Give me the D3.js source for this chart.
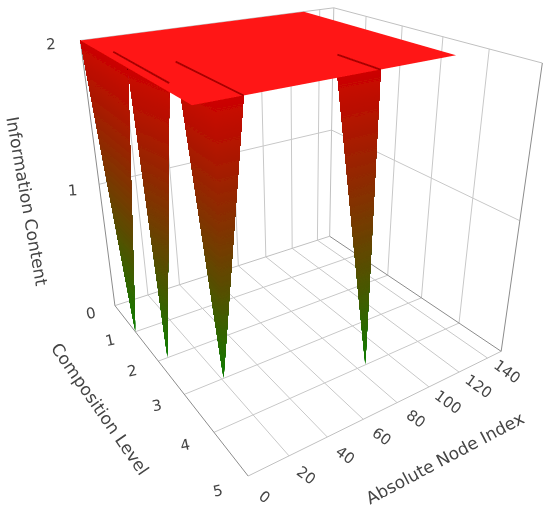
<!DOCTYPE html>
<meta charset="utf-8">
<style>
body { margin: 0; background: #fff; }
text { font-family: "DejaVu Sans", sans-serif; fill: #444; text-anchor: middle; dominant-baseline: central; }
.tick { font-size: 15px; }
.title { font-size: 17px; }
</style>
<svg width="550" height="513"><g id="plot" filter="url(#soft)"></g>
  <defs><filter id="soft" x="0" y="0" width="100%" height="100%"><feGaussianBlur stdDeviation="0.45"></feGaussianBlur></filter></defs>
</svg>

<script src="https://d3js.org/d3.v7.min.js"></script>
<script>

var nodeTicks = [0, 20, 40, 60, 80, 100, 120, 140],
    levelTicks = [0, 1, 2, 3, 4, 5],
    infoTicks = [2, 1];

var nodeMax = 150, levelMax = 5, infoMax = 2;

// the flat part of the surface
var topNodeEnd = 129, topLevelEnd = 4;

// each spike: nodes and levels of the points along its top, then its tip
var spikeTopNodes  = [[0, 0], [0, 5], [9, 9, 21], [64, 86]],
    spikeTopLevels = [[0, 2], [2, 3], [3, 4, 4], [4, 4]],
    spikeTipNode   = [0, 5, 21, 85],
    spikeTipLevel  = [1, 2, 3, 4];

// dark creases on the flat part
var creaseNode  = [5, 21, 86],
    creaseFrom  = [1, 2.05, 3],
    creaseTo    = [3, 4, 4];

// picture positions of known plot points: node, level, info, x, y
var cameraRefs = [
  [0, 0, 0, 113, 306], [0, 1, 0, 136, 331], [0, 2, 0, 159, 361], [0, 3, 0, 186, 395],
  [0, 4, 0, 215, 433], [0, 5, 0, 247, 476], [20, 5, 0, 288, 457], [60, 5, 0, 363, 418],
  [100, 5, 0, 428, 387], [140, 5, 0, 487, 358], [150, 5, 0, 502, 351], [150, 0, 0, 330, 237],
  [120, 0, 0, 292, 248], [0, 0, 2, 80, 41], [150, 0, 2, 333, 8], [150, 5, 2, 543, 63],
  [0, 0, 1, 100, 183], [150, 0, 1, 332, 130]
];

var nodeScale = d3.scaleLinear().domain([0, nodeMax]).range([0, 1]),
    levelScale = d3.scaleLinear().domain([0, levelMax]).range([0, 1]),
    infoScale = d3.scaleLinear().domain([0, infoMax]).range([0, 1]),
    color = d3.scaleLinear().domain([0, infoMax]).range(["#0f7d00", "#cc0400"]).interpolate(d3.interpolateRgb);

function solveCamera(refs) {
  var A = d3.range(11).map(function() { return d3.range(12).map(function() { return 0; }); });
  function add(row, b) {
    for (var i = 0; i < 11; i++) {
      for (var j = 0; j < 11; j++) A[i][j] += row[i] * row[j];
      A[i][11] += row[i] * b;
    }
  }
  refs.forEach(function(r) {
    var X = nodeScale(r[0]), Y = levelScale(r[1]), Z = infoScale(r[2]), u = r[3], v = r[4];
    add([X, Y, Z, 1, 0, 0, 0, 0, -u * X, -u * Y, -u * Z], u);
    add([0, 0, 0, 0, X, Y, Z, 1, -v * X, -v * Y, -v * Z], v);
  });
  for (var c = 0; c < 11; c++) {
    var p = c;
    for (var r = c + 1; r < 11; r++) if (Math.abs(A[r][c]) > Math.abs(A[p][c])) p = r;
    var t = A[c]; A[c] = A[p]; A[p] = t;
    for (r = 0; r < 11; r++) {
      if (r === c) continue;
      var f = A[r][c] / A[c][c];
      for (var k = c; k < 12; k++) A[r][k] -= f * A[c][k];
    }
  }
  return A.map(function(row, i) { return row[11] / row[i]; }).concat([1]);
}

var P = solveCamera(cameraRefs);

function project(n, l, z) {
  var X = nodeScale(n), Y = levelScale(l), Z = infoScale(z),
      w = P[8] * X + P[9] * Y + P[10] * Z + P[11];
  return [(P[0] * X + P[1] * Y + P[2] * Z + P[3]) / w, (P[4] * X + P[5] * Y + P[6] * Z + P[7]) / w];
}

var svg = d3.select("#plot");
var line = d3.line();

function edge(a, b, stroke) {
  svg.append("path").attr("d", line([project.apply(null, a), project.apply(null, b)]))
     .attr("fill", "none").attr("stroke", stroke).attr("stroke-width", 1);
}

var gridColor = "#c8c8c8", boxColor = "#c0c0c0", axisColor = "#8c8c8c";

// floor, back wall and side wall
levelTicks.slice(1, 5).forEach(function(l) {
  edge([0, l, 0], [nodeMax, l, 0], gridColor);
  edge([nodeMax, l, 0], [nodeMax, l, infoMax], gridColor);
});
nodeTicks.slice(1).forEach(function(n) {
  edge([n, 0, 0], [n, levelMax, 0], gridColor);
  edge([n, 0, 0], [n, 0, infoMax], gridColor);
});
edge([0, 0, 1], [nodeMax, 0, 1], gridColor);
edge([nodeMax, 0, 1], [nodeMax, levelMax, 1], gridColor);

edge([0, levelMax, 0], [nodeMax, levelMax, 0], boxColor);
edge([0, 0, infoMax], [nodeMax, 0, infoMax], boxColor);
edge([nodeMax, 0, infoMax], [nodeMax, levelMax, infoMax], boxColor);
edge([nodeMax, 0, 0], [nodeMax, 0, infoMax], boxColor);
edge([0, 0, 0], [nodeMax, 0, 0], boxColor);
edge([nodeMax, levelMax, 0], [nodeMax, levelMax, infoMax], axisColor);
edge([0, 0, 0], [0, 0, infoMax], axisColor);
edge([0, 0, 0], [0, levelMax, 0], axisColor);
edge([nodeMax, 0, 0], [nodeMax, levelMax, 0], axisColor);

// spikes, each band runs from its height to the top and the higher ones paint over it
var bands = d3.range(0, infoMax, 0.01);
spikeTipNode.forEach(function(tipN, s) {
  var tops = spikeTopNodes[s].map(function(n, i) { return [n, spikeTopLevels[s][i]]; }),
      tipL = spikeTipLevel[s];
  function at(top, z) {
    var t = z / infoMax;
    return project(tipN + (top[0] - tipN) * t, tipL + (top[1] - tipL) * t, z);
  }
  svg.append("g").selectAll("path").data(bands).enter().append("path")
     .attr("d", function(z) {
       var lower = tops.map(function(t) { return at(t, z); }),
           upper = tops.map(function(t) { return at(t, infoMax); }).reverse();
       return line(lower.concat(upper)) + "Z";
     })
     .attr("fill", function(z) { return color(z + 0.005); });
});

// flat top
svg.append("path")
   .attr("d", line([[0, 0], [topNodeEnd, 0], [topNodeEnd, topLevelEnd], [0, topLevelEnd]].map(function(d) {
     return project(d[0], d[1], infoMax);
   })) + "Z")
   .attr("fill", "#ff1414");

creaseNode.forEach(function(n, i) {
  svg.append("path").attr("d", line([project(n, creaseFrom[i], infoMax), project(n, creaseTo[i], infoMax)]))
     .attr("fill", "none").attr("stroke", "#a80404").attr("stroke-width", 1.8);
});

// tick labels
function label(cls, txt, pos, angle) {
  svg.append("text").attr("class", cls).attr("transform", "translate(" + pos[0] + "," + pos[1] + ") rotate(" + angle + ")").text(txt);
}
nodeTicks.forEach(function(n) { label("tick", n, project(n, 5.43, 0), 36); });
levelTicks.forEach(function(l) { label("tick", l, project(-14, l, 0), -12); });
infoTicks.forEach(function(z) { label("tick", z, project(-14, 0, z), -4); });

label("title", "Information Content", [27, 201], 80);
label("title", "Composition Level", [100, 409], 55);
label("title", "Absolute Node Index", [445, 458], -28);

</script>
